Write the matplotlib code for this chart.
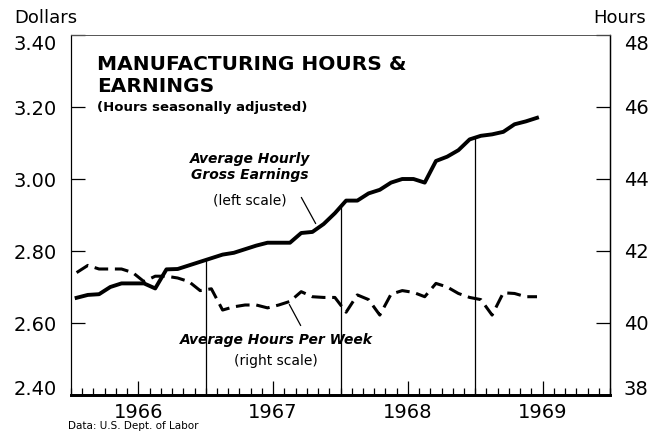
import numpy as np
import matplotlib
matplotlib.use("Agg")
import matplotlib.pyplot as plt

# monthly data, Jan 1966 - Jun 1969
earnings = [2.67, 2.678, 2.68, 2.70, 2.71, 2.71, 2.71, 2.696, 2.749, 2.75, 2.76, 2.77,
            2.78, 2.79, 2.795, 2.805, 2.815, 2.823, 2.823, 2.823, 2.85, 2.853, 2.875, 2.905,
            2.94, 2.94, 2.96, 2.97, 2.99, 3.00, 3.00, 2.99, 3.05, 3.062, 3.08, 3.11,
            3.12, 3.124, 3.131, 3.152, 3.16, 3.17]
hours = [41.4, 41.6, 41.5, 41.5, 41.5, 41.4, 41.15, 41.3, 41.3, 41.25, 41.15, 40.9,
         40.95, 40.36, 40.45, 40.5, 40.5, 40.42, 40.5, 40.6, 40.87, 40.73, 40.71, 40.71,
         40.3, 40.78, 40.65, 40.22, 40.8, 40.9, 40.85, 40.73, 41.1, 41.0, 40.82, 40.71,
         40.65, 40.22, 40.84, 40.82, 40.73, 40.73]
years = ["1966", "1967", "1968", "1969"]

months = np.arange(len(earnings)) + 0.5

plt.rcParams['font.family'] = ['DejaVu Sans']

fig = plt.figure(figsize=(6.62, 4.32), dpi=100)
ax = fig.add_axes([71/662, 1 - 395/432, 539/662, 360/432])
ax2 = ax.twinx()

ax.plot(months, earnings, color='black', lw=2.8, solid_joinstyle='round', zorder=3)
ax2.plot(months, hours, color='black', lw=2.2, dashes=(4.5, 2.2), zorder=3)

# year dividers from the earnings line down to the axis
for b in [12, 24, 36]:
    ax.vlines(b, 2.40, np.interp(b, months, earnings), color='black', lw=0.9)

ax.set_xlim(0, 48)
ax.set_ylim(2.40, 3.40)
ax2.set_ylim(38, 48)

ax.set_yticks(np.arange(2.40, 3.41, 0.20))
ax.set_yticklabels(["%.2f" % v for v in np.arange(2.40, 3.41, 0.20)])
ax2.set_yticks(np.arange(38, 49, 2))
ax2.set_yticklabels([str(v) for v in range(38, 49, 2)])

ax.set_xticks([6, 18, 30, 42])
ax.set_xticklabels(years)
ax.set_xticks(np.arange(0, 49, 1), minor=True)

ax.tick_params(axis='y', direction='in', length=10, width=0.9, labelsize=14, pad=10)
ax2.tick_params(axis='y', direction='in', length=10, width=0.9, labelsize=14, pad=10)
ax.tick_params(axis='x', which='major', direction='in', length=10, width=0.9, labelsize=14, pad=6)
ax.tick_params(axis='x', which='minor', direction='in', length=5, width=0.9)

# end labels sit inside the frame, as in the print
for a in (ax, ax2):
    labs = a.get_yticklabels()
    labs[0].set_va('baseline')
    labs[-1].set_va('top')

for a in (ax, ax2):
    a.spines['top'].set_linewidth(0.6)
    a.spines['top'].set_color('#555555')
    a.spines['left'].set_linewidth(0.8)
    a.spines['right'].set_linewidth(0.9)
    a.spines['bottom'].set_linewidth(2.0)

fig.text(14/662, 1 - 18/432, "Dollars", fontsize=13, va='center', ha='left')
fig.text(646/662, 1 - 18/432, "Hours", fontsize=13, va='center', ha='right')

fig.text(97/662, 1 - 64/432, "MANUFACTURING HOURS &", fontsize=14.5, fontweight='bold',
         va='center', ha='left')
fig.text(97/662, 1 - 87/432, "EARNINGS", fontsize=14.5, fontweight='bold',
         va='center', ha='left')
fig.text(97/662, 1 - 107/432, "(Hours seasonally adjusted)", fontsize=9.5, fontweight='bold',
         va='center', ha='left')

fig.text(250/662, 1 - 167/432, "Average Hourly\nGross Earnings", fontsize=10, fontweight='bold',
         style='italic', va='center', ha='center', linespacing=1.25)
fig.text(250/662, 1 - 200/432, "(left scale)", fontsize=10, va='center', ha='center')
ax.annotate("", xy=(317/662, 1 - 226/432), xytext=(300/662, 1 - 195/432),
            xycoords='figure fraction', textcoords='figure fraction',
            arrowprops=dict(arrowstyle='-', color='black', lw=0.9))

fig.text(276/662, 1 - 340/432, "Average Hours Per Week", fontsize=10, fontweight='bold',
         style='italic', va='center', ha='center')
fig.text(276/662, 1 - 361/432, "(right scale)", fontsize=10, va='center', ha='center')
ax.annotate("", xy=(288/662, 1 - 302/432), xytext=(302/662, 1 - 328/432),
            xycoords='figure fraction', textcoords='figure fraction',
            arrowprops=dict(arrowstyle='-', color='black', lw=0.9))

fig.text(68/662, 1 - 431/432, "Data: U.S. Dept. of Labor", fontsize=7.5, va='bottom', ha='left')

fig.savefig("out.png", dpi=100)
